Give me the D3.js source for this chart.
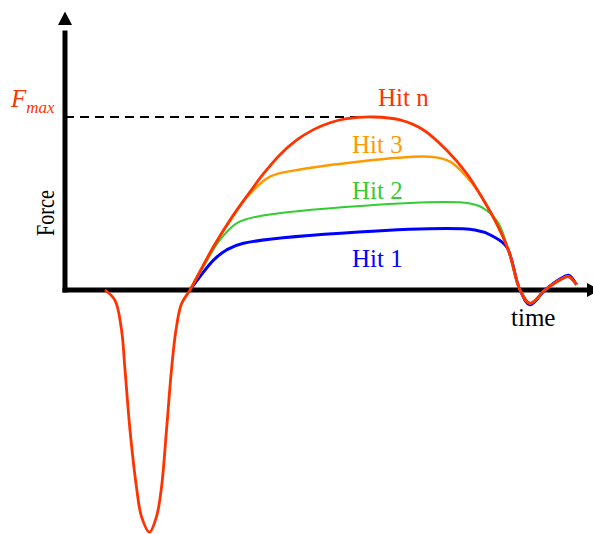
<!DOCTYPE html>
<html>
<head>
<meta charset="utf-8">
<script src="https://cdn.jsdelivr.net/npm/d3@7"></script>
<style>
  html, body { margin: 0; padding: 0; background: #fff; }
  svg { display: block; font-family: "Liberation Serif", "Times New Roman", serif; }
</style>
</head>
<body>
<svg id="chart" width="593" height="534"></svg>
<script>
// force curves, time in arbitrary units, force normalised so Fmax = 1
const hitNTime  = [8, 10, 11.3, 12, 13, 14.3, 15.3, 16.9, 18.3, 19.3, 20.3, 21.3, 22.2, 23.3, 25, 29.7, 33, 36.3, 39.7, 43, 46.3, 49.7, 53, 56.3, 61.7, 67, 71.7, 76.3, 80.3, 83.7, 86.3, 88.7, 91, 93, 96, 99, 100.7, 102.3];
const hitNForce = [0, -0.06, -0.23, -0.46, -0.81, -1.14, -1.31, -1.40, -1.31, -1.14, -0.81, -0.46, -0.23, -0.08, 0, 0.25, 0.405, 0.54, 0.672, 0.782, 0.866, 0.927, 0.967, 0.99, 1.0, 0.983, 0.925, 0.809, 0.675, 0.52, 0.385, 0.23, 0, -0.077, 0, 0.058, 0.077, 0.03];

const hit1Time  = [25, 27, 29.7, 32.3, 35.7, 82, 85.7, 88.3, 91, 93, 96, 99, 100.7, 102.3];
const hit1Force = [0, 0.077, 0.173, 0.231, 0.27, 0.347, 0.308, 0.25, 0, -0.085, 0, 0.063, 0.085, 0.03];

const hit2Time  = [25, 27.7, 31, 34.3, 38.3, 81, 84.3, 86.7, 88.7, 91, 93, 96, 99, 100.7, 102.3];
const hit2Force = [0, 0.135, 0.29, 0.385, 0.424, 0.50, 0.46, 0.385, 0.23, 0, -0.077, 0, 0.058, 0.077, 0.03];

const hit3Time  = [25, 29.7, 33, 36.3, 41, 45.7, 73, 77, 80.3, 82, 83.7, 86.3, 88.7, 91, 93, 96, 99, 100.7, 102.3];
const hit3Force = [0, 0.25, 0.40, 0.535, 0.655, 0.69, 0.77, 0.742, 0.655, 0.595, 0.52, 0.385, 0.23, 0, -0.077, 0, 0.058, 0.077, 0.03];

const seriesNames = ["Hit 1", "Hit 2", "Hit 3", "Hit n"];
const fMax = 1;

const svg = d3.select("#chart");

const x = d3.scaleLinear().domain([0, 105]).range([65, 590]);
const y = d3.scaleLinear().domain([-1.4, 1.6]).range([532.2, 13.2]);

const colors = { "Hit 1": "#0000ff", "Hit 2": "#33cc33", "Hit 3": "#ff9900", "Hit n": "#ff3300" };
const widths = { "Hit 1": 3, "Hit 2": 2, "Hit 3": 2.5, "Hit n": 2.8 };

const series = [
  { name: "Hit 1", t: hit1Time, f: hit1Force },
  { name: "Hit 2", t: hit2Time, f: hit2Force },
  { name: "Hit 3", t: hit3Time, f: hit3Force },
  { name: "Hit n", t: hitNTime, f: hitNForce }
];

// axes: thick black lines with arrow heads
const axisW = 5;
svg.append("line")
  .attr("x1", x(0) - axisW / 2).attr("x2", x(104.4))
  .attr("y1", y(0)).attr("y2", y(0))
  .attr("stroke", "#000").attr("stroke-width", axisW);
svg.append("line")
  .attr("x1", x(0)).attr("x2", x(0))
  .attr("y1", y(0) + axisW / 2).attr("y2", y(1.5))
  .attr("stroke", "#000").attr("stroke-width", axisW);

// arrow heads
const ax = x(0), ay = y(0);
svg.append("path")
  .attr("d", `M${ax},11.5 L${ax - 7},25 L${ax + 7},25 Z`)
  .attr("fill", "#000");
svg.append("path")
  .attr("d", `M${x(104.4) + 13},${ay} L${x(104.4)},${ay - 7} L${x(104.4)},${ay + 7} Z`)
  .attr("fill", "#000");

// Fmax dashed line
svg.append("line")
  .attr("x1", x(0)).attr("x2", x(61.4))
  .attr("y1", y(fMax)).attr("y2", y(fMax))
  .attr("stroke", "#000").attr("stroke-width", 2)
  .attr("stroke-dasharray", "9,6");

const line = d3.line()
  .x(d => x(d[0]))
  .y(d => y(d[1]))
  .curve(d3.curveCatmullRom.alpha(0.5));

svg.append("g").selectAll("path")
  .data(series)
  .join("path")
  .attr("d", s => line(s.t.map((t, i) => [t, s.f[i]])))
  .attr("fill", "none")
  .attr("stroke", s => colors[s.name])
  .attr("stroke-width", s => widths[s.name])
  .attr("stroke-linejoin", "round");

// series labels
const labelPos = { "Hit n": [378, 105.5], "Hit 3": [352, 153], "Hit 2": [352, 199], "Hit 1": [352, 266.5] };
svg.append("g").selectAll("text")
  .data(seriesNames)
  .join("text")
  .attr("x", d => labelPos[d][0])
  .attr("y", d => labelPos[d][1])
  .attr("fill", d => colors[d])
  .attr("font-size", 25)
  .text(d => d);

// axis titles
svg.append("text")
  .attr("x", 511).attr("y", 326)
  .attr("font-size", 25)
  .attr("fill", "#000")
  .text("time");

svg.append("text")
  .attr("transform", "translate(54,213) rotate(-90)")
  .attr("text-anchor", "middle")
  .attr("font-size", 26)
  .attr("textLength", 46)
  .attr("lengthAdjust", "spacingAndGlyphs")
  .attr("fill", "#000")
  .text("Force");

const fm = svg.append("text")
  .attr("x", 11).attr("y", 106.5)
  .attr("fill", "#ff3300")
  .attr("font-style", "italic");
fm.append("tspan").attr("font-size", 25).text("F");
fm.append("tspan").attr("font-size", 17).attr("dy", 6).text("max");
</script>
</body>
</html>
